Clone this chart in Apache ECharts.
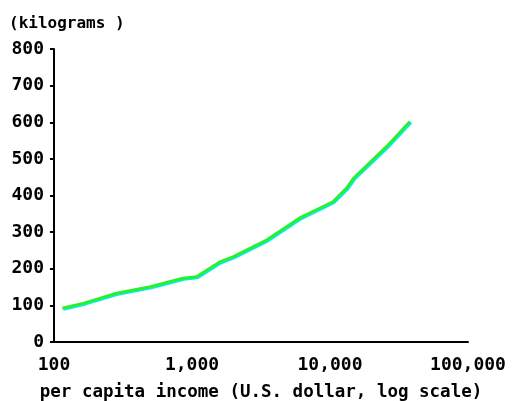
<!DOCTYPE html>
<html><head><meta charset="utf-8">
<script src="https://cdn.jsdelivr.net/npm/echarts@6/dist/echarts.min.js"></script>
<style>html,body{margin:0;padding:0;background:#fff}#c{width:516px;height:401px}</style>
</head><body><div id="c"></div>
<script>
const incomes = [115, 165, 285, 500, 860, 1080, 1600, 2000, 3500, 6000, 10500, 13200, 14800, 25800, 38000];
const kilograms = [92, 106, 133, 151, 174, 178, 219, 233, 279, 338, 383, 420, 447, 534, 602];
const xTickValues = [100, 1000, 10000, 100000];
const xTickLabels = ['100', '1,000', '10,000', '100,000'];
const yTickLabels = ['0','100','200','300','400','500','600','700','800'];
const yUnit = '(kilograms )';
const xName = 'per capita income (U.S. dollar, log scale)';

const chart = echarts.init(document.getElementById('c'), null, {renderer:'canvas'});
const lbl = {color:'#000', fontFamily:'DejaVu Sans Mono', fontWeight:'bold', fontSize:18};
chart.setOption({
  animation:false,
  backgroundColor:'#fff',
  title:{text:yUnit, left:4, top:11, textStyle:{color:'#000', fontFamily:'DejaVu Sans Mono', fontWeight:'bold', fontSize:16}},
  grid:{left:54, right:48, top:49, bottom:59, containLabel:false, outerBoundsMode:'none'},
  xAxis:{
    type:'log', logBase:10, min:100, max:100000,
    name:xName, nameLocation:'middle', nameGap:41,
    nameTextStyle:{color:'#000', fontFamily:'DejaVu Sans Mono', fontWeight:'bold', fontSize:17.5},
    axisLine:{lineStyle:{color:'#000', width:2}},
    axisTick:{show:false}, splitLine:{show:false}, minorTick:{show:false},
    axisLabel:Object.assign({margin:14, formatter:v=>{const i=xTickValues.findIndex(t=>Math.abs(t-v)/t<1e-6);return i>=0?xTickLabels[i]:'';}}, lbl)
  },
  yAxis:{
    type:'value', min:0, max:800, interval:100,
    axisLine:{show:true, lineStyle:{color:'#000', width:2}},
    axisTick:{show:true, length:4, lineStyle:{color:'#000', width:2}},
    splitLine:{show:false},
    axisLabel:Object.assign({margin:10, formatter:v=>yTickLabels[Math.round(v/100)]}, lbl)
  },
  series:[{
    type:'line', data:incomes.map((x,i)=>[x,kilograms[i]]), showSymbol:false, smooth:false,
    lineStyle:{color:'#2aee30', width:3, shadowColor:'#00eeff', shadowOffsetX:1, shadowOffsetY:1, shadowBlur:0}
  }]
});
</script></body></html>
